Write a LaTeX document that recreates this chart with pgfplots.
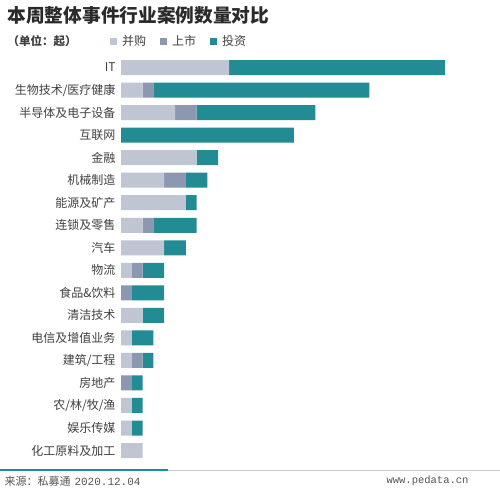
\documentclass[border=0pt]{standalone}
\usepackage{pgfplots}
\pgfplotsset{compat=1.18}
\usepackage{pgfplotstable}
\usepackage{fontspec}
\setmainfont{Noto Sans CJK SC}
\newfontfamily\monofont{Liberation Mono}
\definecolor{cMA}{HTML}{BFC5D3}
\definecolor{cIPO}{HTML}{8C98AF}
\definecolor{cVC}{HTML}{238B94}
\definecolor{labelgray}{HTML}{404040}
\definecolor{titlegray}{HTML}{2A2A2A}
\definecolor{footgray}{HTML}{555555}
\pgfplotstableread{
idx ma ipo vc
0 10 0 20
1 2 1 20
2 5 2 11
3 0 0 16
4 7 0 2
5 4 2 2
6 6 0 1
7 2 1 4
8 4 0 2
9 1 1 2
10 0 1 3
11 2 0 2
12 1 0 2
13 1 1 1
14 0 1 1
15 1 0 1
16 1 0 1
17 2 0 0
}\datatable
\begin{document}
\begin{tikzpicture}
\fill[white] (0,0) rectangle (500pt,488pt);
\path[use as bounding box] (0,0) rectangle (500pt,488pt);
\begin{axis}[
  at={(121pt,26.2pt)}, anchor=south west,
  scale only axis, width=378pt, height=405.5pt,
  xbar stacked, bar width=15pt,
  xmin=0, xmax=35, ymin=-0.5, ymax=17.5, y dir=reverse,
  axis line style={draw=none}, xtick=\empty,
  ytick={0,...,17},
  yticklabels={IT,生物技术/医疗健康,半导体及电子设备,互联网,金融,机械制造,能源及矿产,连锁及零售,汽车,物流,食品\&饮料,清洁技术,电信及增值业务,建筑/工程,房地产,农/林/牧/渔,娱乐传媒,化工原料及加工},
  major tick length=0pt,
  yticklabel style={font=\fontsize{12}{14}\selectfont, text=labelgray, xshift=-2pt},
  clip=false,
  legend columns=-1,
  legend style={at={(axis description cs:-0.037,1.037)}, anchor=west, draw=none, fill=none,
    font=\fontsize{12}{14}\selectfont, text=labelgray,
    /tikz/every even column/.append style={column sep=12pt}},
  legend image code/.code={\fill[#1] (0pt,-3.5pt) rectangle (7pt,3.5pt); \path (10pt,0pt);},
]
\addplot[fill=cMA, draw=none] table[x=ma, y=idx] {\datatable};
\addplot[fill=cIPO, draw=none] table[x=ipo, y=idx] {\datatable};
\addplot[fill=cVC, draw=none] table[x=vc, y=idx] {\datatable};
\legend{并购,上市,投资}
\end{axis}
\node[anchor=west, font=\bfseries\fontsize{18.7}{21}\selectfont, text=titlegray] at (4pt,473pt) {本周整体事件行业案例数量对比};
\node[anchor=west, font=\bfseries\fontsize{11.5}{13}\selectfont, text=labelgray] at (4pt,447pt) {（单位：起）};
\draw[gray!40, line width=0.7pt] (168pt,18pt) -- (500pt,18pt);
\draw[cVC, line width=2pt] (0,18pt) -- (168pt,18pt);
\node[anchor=west, font=\fontsize{11}{12}\selectfont, text=footgray] at (1pt,7pt) {来源：私募通\hspace{4pt}{\monofont 2020.12.04}};
\node[anchor=east, font=\fontsize{10.5}{12}\selectfont\monofont, text=footgray] at (472pt,7pt) {www.pedata.cn};
\end{tikzpicture}
\end{document}
